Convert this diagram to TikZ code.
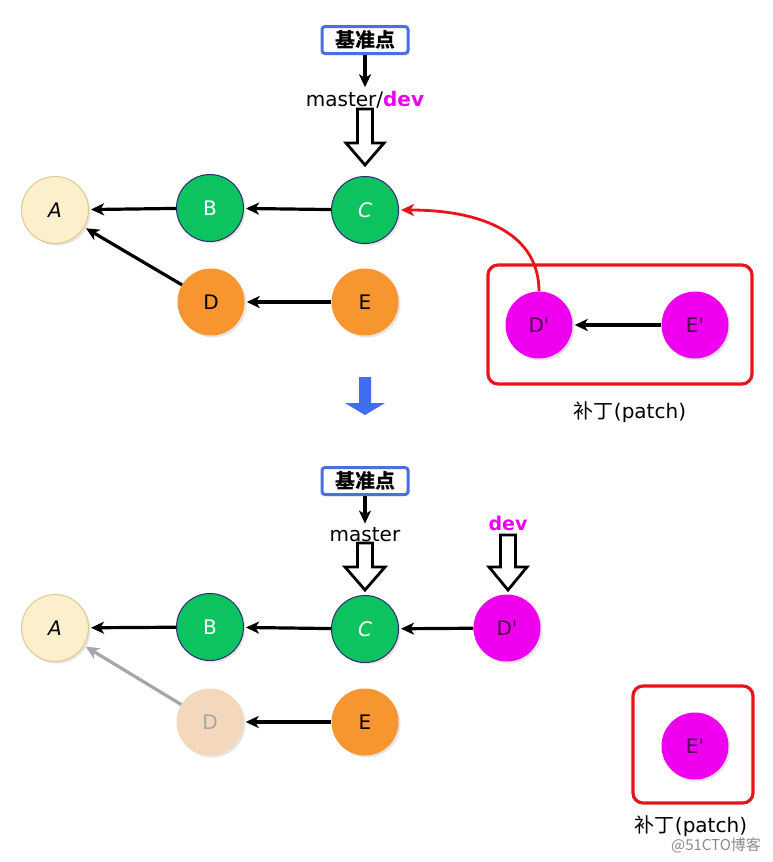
\documentclass[tikz,border=0pt]{standalone}
\usepackage{fontspec}
\setmainfont{DejaVu Sans}
\newfontfamily\cjk{Noto Sans CJK SC}
\usetikzlibrary{arrows.meta,shadows}
\definecolor{cream}{HTML}{FCEFCB}
\definecolor{creamline}{HTML}{E2C98C}
\definecolor{cgreen}{HTML}{0DC35F}
\definecolor{navy}{HTML}{2E2A7A}
\definecolor{corange}{HTML}{F7952F}
\definecolor{cmag}{HTML}{EE00EE}
\definecolor{magtext}{HTML}{4A0A4A}
\definecolor{faded}{HTML}{F4D8BB}
\definecolor{boxblue}{HTML}{4A6FE0}
\definecolor{bigblue}{HTML}{3F6FF0}
\definecolor{cred}{HTML}{E8141C}
\newcommand{\apos}{\textquotesingle}
\tikzset{
  commit/.style={circle, minimum size=67pt, inner sep=0pt,
    font=\fontsize{20}{22}\selectfont,
    drop shadow={shadow xshift=2pt, shadow yshift=-2pt, opacity=0.2}},
  nA/.style={commit, fill=cream, draw=creamline, line width=1pt},
  nG/.style={commit, fill=cgreen, draw=navy, line width=1pt, text=white},
  nO/.style={commit, fill=corange},
  nM/.style={commit, fill=cmag, text=magtext},
  nF/.style={commit, fill=faded, text=black!35},
  tipstyle/.style={-{Stealth[length=13pt,width=12pt,inset=3.5pt]}},
  arr/.style={line width=3.2pt, tipstyle, shorten >=2pt},
  refbox/.style={draw=boxblue, line width=3pt, rounded corners=3pt, fill=white,
    minimum width=86pt, minimum height=27pt, inner sep=2pt,
    font=\cjk\bfseries\fontsize{20}{22}\selectfont,
    drop shadow={shadow xshift=1.5pt, shadow yshift=-1.5pt, opacity=0.2}},
  lbl/.style={inner sep=2pt, font=\fontsize{20}{22}\selectfont},
  patchbox/.style={draw=cred, line width=3.2pt, rounded corners=10pt},
  patchlbl/.style={inner sep=1pt, font=\fontsize{20}{22}\selectfont},
  pics/hollowdown/.style n args={3}{code={
    \draw[line width=2.8pt, fill=white, line join=miter]
      (0,0) -- (#3,{-#2}) -- (7.5,{-#2}) -- (7.5,{-#2-#1}) -- (-7.5,{-#2-#1})
      -- (-7.5,{-#2}) -- ({-#3},{-#2}) -- cycle;}}
}
\begin{document}
\begin{tikzpicture}[x=1pt,y=-1pt]
\useasboundingbox[fill=white] (0,0) rectangle (773,862);

% ---------- top part ----------
\node[refbox] (ref1) at (365,40) {基准点};
\node[lbl] (mt1) at (365,100) {master/\textcolor{cmag}{\bfseries dev}};
\draw[arr] (ref1) -- (mt1.north);
\pic at (365,165) {hollowdown={34}{22}{19}};

\node[nA] (A1) at (55,210) {\itshape A};
\node[nG] (B1) at (210,208) {B};
\node[nG] (C1) at (365,210) {\itshape C};
\node[nO] (D1) at (211,302) {D};
\node[nO] (E1) at (365,302) {E};

\draw[arr] (B1) -- (A1);
\draw[arr] (C1) -- (B1);
\draw[arr] (D1) -- (A1);
\draw[arr] (E1) -- (D1);

\draw[patchbox] (488,265) rectangle (752,384);
\node[nM] (Dp1) at (539,325) {D\apos};
\node[nM] (Ep1) at (695,325) {E\apos};
\draw[arr] (Ep1) -- (Dp1);
\draw[arr, cred, line width=2.8pt]
  (Dp1.north) .. controls (539,235) and (485,210) .. (C1.east);
\node[patchlbl] (pl1) at (630,412) {\cjk 补丁\rmfamily(patch)};

% big blue arrow
\fill[bigblue] (359,377) -- (371,377) -- (371,403) -- (385,403) -- (365,415)
  -- (345,403) -- (359,403) -- cycle;

% ---------- bottom part ----------
\node[refbox] (ref2) at (365,481) {基准点};
\node[lbl] (mt2) at (365,535) {master};
\draw[arr] (ref2) -- (mt2.north);
\pic at (365,590) {hollowdown={24}{23}{20}};
\node[lbl, text=cmag, font=\bfseries\fontsize{19}{21}\selectfont] (dev2) at (508,523) {dev};
\pic at (508,590) {hollowdown={32}{23}{19}};

\node[nA] (A2) at (55,628) {\itshape A};
\node[nG] (B2) at (210,627) {B};
\node[nG] (C2) at (365,629) {\itshape C};
\node[nM] (Dp2) at (507,628) {D\apos};
\node[nF] (D2) at (210,722) {D};
\node[nO] (E2) at (365,722) {E};

\draw[arr] (B2) -- (A2);
\draw[arr] (C2) -- (B2);
\draw[arr] (Dp2) -- (C2);
\draw[arr] (E2) -- (D2);
\draw[arr, black!35] (D2) -- (A2);

\draw[patchbox] (633,686) rectangle (753,803);
\node[nM] (Ep2) at (695,746) {E\apos};
\node[patchlbl] (pl2) at (691,826) {\cjk 补丁\rmfamily(patch)};
\node[inner sep=0pt, text=black!45, font=\cjk\fontsize{15}{17}\selectfont] (wm) at (716,845) {@51CTO博客};
\end{tikzpicture}
\end{document}
